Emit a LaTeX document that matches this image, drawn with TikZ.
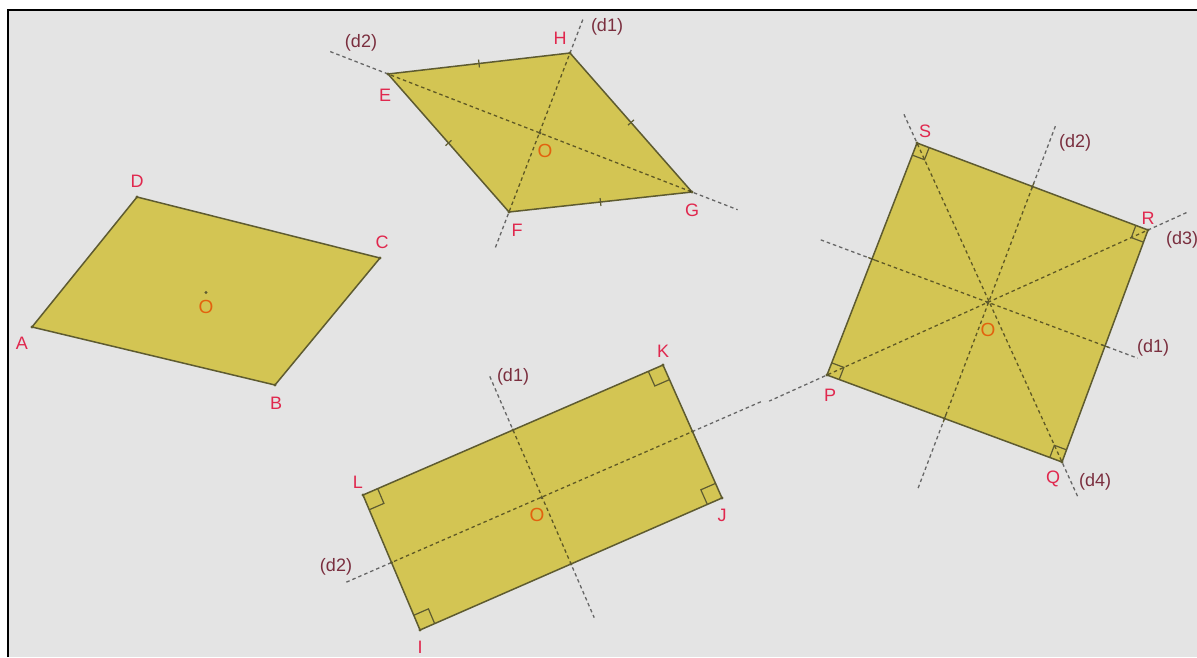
\documentclass[tikz,border=0pt]{standalone}
\usepackage{fontspec}
\setmainfont{Liberation Sans}
\usetikzlibrary{calc}
\definecolor{panel}{HTML}{E4E4E4}
\definecolor{quadfill}{HTML}{D3C553}
\definecolor{quadedge}{HTML}{5E5B30}
\definecolor{ptred}{HTML}{E0284E}
\definecolor{centreorange}{HTML}{E2620E}
\definecolor{axislabel}{HTML}{7A2E3E}
\tikzset{
  quad/.style={fill=quadfill,draw=quadedge,line width=1.5pt,line join=round},
  axis/.style={draw=black,draw opacity=0.55,dash pattern=on 3.5pt off 3pt,line width=1.3pt},
  pt/.style={text=ptred,font=\fontsize{18}{20}\selectfont,inner sep=0pt},
  ctr/.style={text=centreorange,font=\fontsize{19}{21}\selectfont,inner sep=0pt},
  axlab/.style={text=axislabel,font=\fontsize{18}{20}\selectfont,inner sep=0pt},
  tickmark/.style={draw=quadedge,line width=1.2pt},
  vdot/.style={fill=quadedge}
}
% right angle mark: corner, neighbour, neighbour, size
\newcommand{\rtanglemark}[4]{%
  \draw[quadedge,line width=1.2pt] ($(#1)!#4!(#2)$) -- ($(#1)!#4!(#2)+(#1)!#4!(#3)-(#1)$) -- ($(#1)!#4!(#3)$);}
% equal-length tick on a side
\newcommand{\sidetick}[2]{%
  \draw[tickmark] ($($(#1)!0.5!(#2)$)!4pt!90:(#2)$) -- ($($(#1)!0.5!(#2)$)!4pt!-90:(#2)$);}
\begin{document}
\begin{tikzpicture}[x=1pt,y=-1pt]
  \useasboundingbox (0,0) rectangle (1197,657);
  \clip (0,0) rectangle (1197,657);
  \fill[white] (0,0) rectangle (1197,657);
  \fill[panel] (9,11) rectangle (1197,657);
  \draw[line width=2pt] (8,657) -- (8,10) -- (1197,10);

  % parallelogram
  \coordinate (A) at (32,327);
  \coordinate (B) at (275,385);
  \coordinate (C) at (380,258);
  \coordinate (D) at (137,197);
  \coordinate (O1) at ($(A)!0.5!(C)$);
  \draw[quad] (A) -- (B) -- (C) -- (D) -- cycle;
  \fill[quadedge] (O1) circle (1.7);

  % rhombus
  \coordinate (E) at (388,74);
  \coordinate (H) at (570,53);
  \coordinate (G) at (692,192);
  \coordinate (F) at (509,212);
  \coordinate (O2) at ($(E)!0.5!(G)$);
  \coordinate (r2a) at ($(E)!-0.19!(G)$);
  \coordinate (r2b) at ($(G)!-0.15!(E)$);
  \coordinate (r1a) at ($(H)!-0.21!(F)$);
  \coordinate (r1b) at ($(F)!-0.23!(H)$);
  \draw[quad] (E) -- (H) -- (G) -- (F) -- cycle;
  \draw[axis] (r2a) -- (r2b);
  \draw[axis] (r1a) -- (r1b);
  \sidetick{E}{H}
  \sidetick{H}{G}
  \sidetick{G}{F}
  \sidetick{F}{E}
  \fill[quadedge] (O2) circle (1.7);

  % rectangle
  \coordinate (I) at (420,630);
  \coordinate (J) at (722,498);
  \coordinate (K) at (663,365);
  \coordinate (L) at (363,495);
  \coordinate (O3) at ($(I)!0.5!(K)$);
  \coordinate (mLK) at ($(L)!0.5!(K)$);
  \coordinate (mIJ) at ($(I)!0.5!(J)$);
  \coordinate (mLI) at ($(L)!0.5!(I)$);
  \coordinate (mKJ) at ($(K)!0.5!(J)$);
  \coordinate (k1a) at ($(mLK)!-0.40!(mIJ)$);
  \coordinate (k1b) at ($(mIJ)!-0.40!(mLK)$);
  \coordinate (k2a) at ($(mLI)!-0.15!(mKJ)$);
  \coordinate (k2b) at ($(mKJ)!-0.23!(mLI)$);
  \draw[quad] (I) -- (J) -- (K) -- (L) -- cycle;
  \draw[axis] (k1a) -- (k1b);
  \draw[axis] (k2a) -- (k2b);
  \rtanglemark{I}{J}{L}{16pt}
  \rtanglemark{J}{K}{I}{16pt}
  \rtanglemark{K}{L}{J}{16pt}
  \rtanglemark{L}{I}{K}{16pt}
  \foreach \m in {mLK,mIJ,mLI,mKJ,O3} \fill[quadedge] (\m) circle (1.7);

  % square
  \coordinate (P) at (827,375);
  \coordinate (Q) at (1062,462);
  \coordinate (R) at (1148,230);
  \coordinate (S) at (917,143);
  \coordinate (O4) at ($(P)!0.5!(R)$);
  \coordinate (mSR) at ($(S)!0.5!(R)$);
  \coordinate (mPQ) at ($(P)!0.5!(Q)$);
  \coordinate (mSP) at ($(S)!0.5!(P)$);
  \coordinate (mRQ) at ($(R)!0.5!(Q)$);
  \coordinate (s3a) at ($(R)!-0.12!(P)$);
  \coordinate (s3b) at ($(P)!-0.18!(R)$);
  \coordinate (s4a) at ($(S)!-0.09!(Q)$);
  \coordinate (s4b) at ($(Q)!-0.11!(S)$);
  \coordinate (s2a) at ($(mSR)!-0.26!(mPQ)$);
  \coordinate (s2b) at ($(mPQ)!-0.30!(mSR)$);
  \coordinate (s1a) at ($(mSP)!-0.22!(mRQ)$);
  \coordinate (s1b) at ($(mRQ)!-0.14!(mSP)$);
  \draw[quad] (P) -- (Q) -- (R) -- (S) -- cycle;
  \draw[axis] (s3a) -- (s3b);
  \draw[axis] (s4a) -- (s4b);
  \draw[axis] (s2a) -- (s2b);
  \draw[axis] (s1a) -- (s1b);
  \rtanglemark{P}{Q}{S}{13pt}
  \rtanglemark{Q}{R}{P}{13pt}
  \rtanglemark{R}{S}{Q}{13pt}
  \rtanglemark{S}{P}{R}{13pt}
  \sidetick{S}{R}
  \sidetick{R}{Q}
  \sidetick{Q}{P}
  \sidetick{P}{S}
  \fill[quadedge] (O4) circle (1.7);

  % vertices
  \foreach \v in {A,B,C,D,E,F,G,H,I,J,K,L,P,Q,R,S} \fill[quadedge] (\v) circle (1.7);

  % labels
  \node[pt] (lA) at (22,343) {A};
  \node[pt] (lB) at (276,403) {B};
  \node[pt] (lC) at (382,242) {C};
  \node[pt] (lD) at (137,181) {D};
  \node[ctr] (lO1) at (206,307) {O};

  \node[pt] (lE) at (385,95) {E};
  \node[pt] (lF) at (517,230) {F};
  \node[pt] (lG) at (692,210) {G};
  \node[pt] (lH) at (560,38) {H};
  \node[ctr] (lO2) at (545,151) {O};
  \node[axlab] (lr2) at (361,43) {(d2)};
  \node[axlab] (lr1) at (607,27) {(d1)};

  \node[pt] (lI) at (420,647) {I};
  \node[pt] (lJ) at (722,515) {J};
  \node[pt] (lK) at (663,351) {K};
  \node[pt] (lL) at (358,482) {L};
  \node[ctr] (lO3) at (537,515) {O};
  \node[axlab] (lk1) at (513,377) {(d1)};
  \node[axlab] (lk2) at (336,567) {(d2)};

  \node[pt] (lP) at (830,395) {P};
  \node[pt] (lQ) at (1053,479) {Q};
  \node[pt] (lR) at (1148,218) {R};
  \node[pt] (lS) at (925,131) {S};
  \node[ctr] (lO4) at (988,330) {O};
  \node[axlab] (ls2) at (1075,143) {(d2)};
  \node[axlab,anchor=west] (ls3) at (1166,240) {(d3)};
  \node[axlab] (ls1) at (1153,348) {(d1)};
  \node[axlab] (ls4) at (1095,482) {(d4)};
\end{tikzpicture}
\end{document}
